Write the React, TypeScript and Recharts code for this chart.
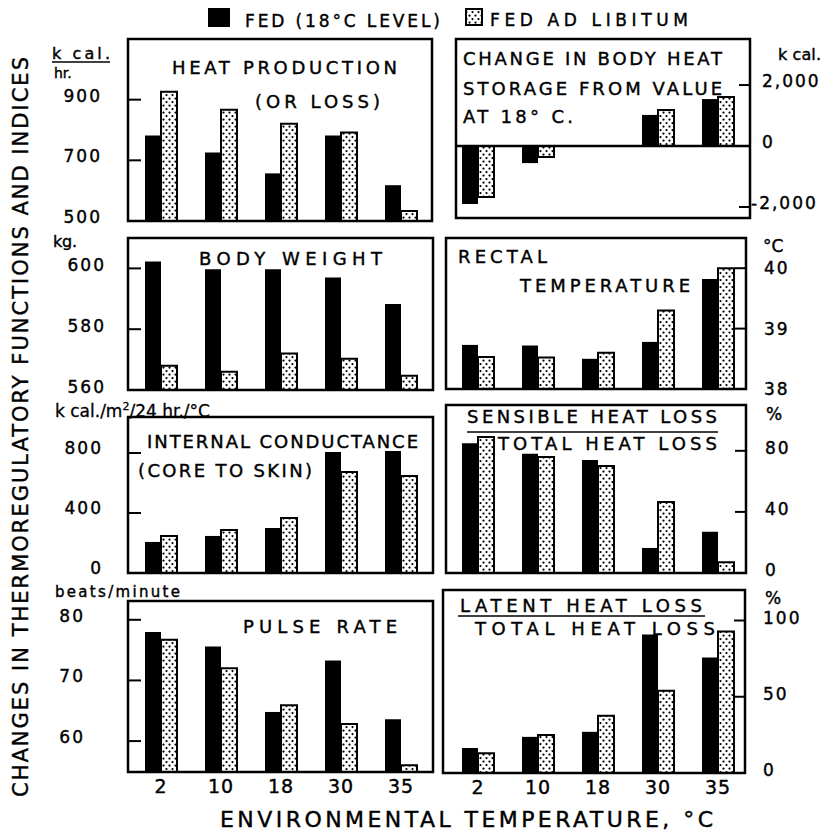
import React from 'react'
import { BarChart, Bar, XAxis, YAxis, ReferenceLine } from 'recharts'

// environmental temperature, °C
const categories = ['2', '10', '18', '30', '35']

// heat production (or loss), k cal./hr.
const heatProductionFed = [782, 726, 657, 782, 618]
const heatProductionAdLib = [926, 867, 821, 792, 533]
const heatProductionTicks = [500, 700, 900]

// change in body heat storage from value at 18 °C, k cal.
const heatStorageFed = [-1900, -560, 0, 1020, 1540]
const heatStorageAdLib = [-1670, -360, 0, 1180, 1610]
const heatStorageTicks = [-2000, 0, 2000]

// body weight, kg.
const bodyWeightFed = [602.3, 599.7, 599.7, 597, 588.3]
const bodyWeightAdLib = [568, 566, 572, 570.3, 564.7]
const bodyWeightTicks = [560, 580, 600]

// rectal temperature, °C
const rectalFed = [38.73, 38.72, 38.5, 38.78, 39.82]
const rectalAdLib = [38.53, 38.52, 38.6, 39.3, 40.0]
const rectalTicks = [38, 39, 40]

// internal conductance, k cal./m2/24 hr./°C
const conductanceFed = [207, 247, 300, 807, 813]
const conductanceAdLib = [247, 287, 367, 673, 647]
const conductanceTicks = [0, 400, 800]

// sensible / total heat loss, %
const sensibleFed = [85, 78, 74, 16.4, 27]
const sensibleAdLib = [89, 76, 70, 46.5, 7]
const sensibleTicks = [0, 40, 80]

// pulse rate, beats/minute
const pulseFed = [78, 75.6, 64.8, 73.3, 63.6]
const pulseAdLib = [76.7, 72, 65.9, 62.8, 56]
const pulseTicks = [60, 70, 80]

// latent / total heat loss, %
const latentFed = [16.4, 23.7, 27, 90.8, 75.7]
const latentAdLib = [13, 25, 37.5, 54, 92.8]
const latentTicks = [0, 50, 100]

const FONT = '"DejaVu Sans", Verdana, sans-serif'

interface PanelSpec {
  id: string
  side: 'left' | 'right'
  box: [number, number, number, number]
  domain: [number, number]
  ticks: number[]
  fed: number[]
  adLib: number[]
  labelX: number
  labelDy: number
  showX?: boolean
  zero?: boolean
  comma?: boolean
}

const panels: PanelSpec[] = [
  { id: 'hp', side: 'left', box: [128, 39, 432, 221], domain: [500, 1100], ticks: heatProductionTicks, fed: heatProductionFed, adLib: heatProductionAdLib, labelX: 102, labelDy: -4 },
  { id: 'hs', side: 'right', box: [456, 39, 750, 218], domain: [-2360, 3510], ticks: heatStorageTicks, fed: heatStorageFed, adLib: heatStorageAdLib, labelX: 762, labelDy: -4, zero: true, comma: true },
  { id: 'bw', side: 'left', box: [128, 238, 433, 390], domain: [560, 610], ticks: bodyWeightTicks, fed: bodyWeightFed, adLib: bodyWeightAdLib, labelX: 106, labelDy: -3 },
  { id: 'rt', side: 'right', box: [446, 238, 746, 389], domain: [38, 40.5], ticks: rectalTicks, fed: rectalFed, adLib: rectalAdLib, labelX: 764, labelDy: 0 },
  { id: 'ic', side: 'left', box: [128, 417, 433, 573], domain: [0, 1040], ticks: conductanceTicks, fed: conductanceFed, adLib: conductanceAdLib, labelX: 103, labelDy: -5 },
  { id: 'sh', side: 'right', box: [446, 405, 746, 573], domain: [0, 110], ticks: sensibleTicks, fed: sensibleFed, adLib: sensibleAdLib, labelX: 765, labelDy: -3 },
  { id: 'pr', side: 'left', box: [128, 601, 433, 772], domain: [54.9, 83.1], ticks: pulseTicks, fed: pulseFed, adLib: pulseAdLib, labelX: 85, labelDy: -4, showX: true },
  { id: 'lh', side: 'right', box: [443, 590, 745, 773], domain: [0, 120], ticks: latentTicks, fed: latentFed, adLib: latentAdLib, labelX: 763, labelDy: -3, showX: true },
]

function DotPattern({ id }: { id: string }) {
  return (
    <pattern id={id} width={6} height={7} patternUnits="userSpaceOnUse">
      <rect width={6} height={7} fill="#fff" />
      <circle cx={1.5} cy={1.6} r={1.15} fill="#000" />
      <circle cx={4.5} cy={5.1} r={1.1} fill="#000" />
    </pattern>
  )
}

function Panel({ spec }: { spec: PanelSpec }) {
  const [bx1, by1, bx2, by2] = spec.box
  const isLeft = spec.side === 'left'
  const svgLeft = isLeft ? 0 : 440
  const svgWidth = isLeft ? 440 : 400
  const plotX1 = isLeft ? 131 : 448
  const plotX2 = isLeft ? 431 : 748
  const axisW = 60
  const padTop = 12
  const padBottom = spec.showX ? 30 : 12
  const height = by2 - by1 + padTop + padBottom
  const data = categories.map((c, i) => ({ name: c, fed: spec.fed[i], adLib: spec.adLib[i] }))

  const margin = isLeft
    ? { top: padTop, bottom: spec.showX ? 0 : padBottom, left: plotX1 - svgLeft - axisW, right: svgLeft + svgWidth - plotX2 }
    : { top: padTop, bottom: spec.showX ? 0 : padBottom, left: plotX1 - svgLeft, right: svgLeft + svgWidth - plotX2 - axisW }

  const fmt = (v: number) => (spec.comma ? v.toLocaleString('en-US') : String(v))

  const yTick = (props: any) => {
    const { y, payload } = props
    const v = payload.value as number
    const edge = (isLeft ? bx1 : bx2) - svgLeft
    const inward = isLeft ? 13 : -11
    const lx = spec.labelX - svgLeft + (v < 0 ? -11 : 0)
    const atEdge = v === spec.domain[0] || v === spec.domain[1]
    return (
      <g>
        {!atEdge && <line x1={edge} x2={edge + inward} y1={y} y2={y} stroke="#000" strokeWidth={2} />}
        <text
          x={lx}
          y={y + spec.labelDy}
          textAnchor={isLeft ? 'end' : 'start'}
          dominantBaseline="central"
          fontFamily={FONT}
          fontSize={17}
          letterSpacing={2}
          fill="#000"
          stroke="#000"
          strokeWidth={0.4}
        >
          {fmt(v)}
        </text>
      </g>
    )
  }

  const xTick = (props: any) => {
    const { x, y, payload } = props
    return (
      <text x={x} y={y + 21} textAnchor="middle" fontFamily={FONT} fontSize={19} letterSpacing={1} fill="#000" stroke="#000" strokeWidth={0.4}>
        {payload.value}
      </text>
    )
  }

  return (
    <div style={{ position: 'absolute', left: svgLeft, top: by1 - padTop }}>
      <BarChart width={svgWidth} height={height} data={data} margin={margin} barGap={0} barSize={16}>
        <defs>
          <DotPattern id={`dots-${spec.id}`} />
        </defs>
        {spec.showX ? (
          <XAxis dataKey="name" height={30} axisLine={false} tickLine={false} tickSize={0} tickMargin={0} tick={xTick} interval={0} />
        ) : (
          <XAxis dataKey="name" hide />
        )}
        <YAxis
          orientation={isLeft ? 'left' : 'right'}
          width={axisW}
          type="number"
          domain={spec.domain}
          ticks={spec.ticks}
          interval={0}
          allowDataOverflow
          axisLine={false}
          tickLine={false}
          tickSize={0}
          tickMargin={0}
          tick={yTick}
        />
        {spec.zero && (
          <ReferenceLine
            y={0}
            stroke="#000"
            strokeWidth={2.5}
            shape={(p: any) => (
              <line x1={bx1 - svgLeft} x2={bx2 - svgLeft} y1={p.y1} y2={p.y2} stroke="#000" strokeWidth={2.5} />
            )}
          />
        )}
        <Bar dataKey="fed" fill="#000" barSize={16} isAnimationActive={false} />
        <Bar dataKey="adLib" fill={`url(#dots-${spec.id})`} stroke="#000" strokeWidth={2} barSize={16} isAnimationActive={false} />
      </BarChart>
    </div>
  )
}

function Txt({ x, y, w, size = 18, children }: { x: number; y: number; w?: number; size?: number; children: React.ReactNode }) {
  return (
    <text
      x={x}
      y={y}
      fontFamily={FONT}
      fontSize={size}
      fill="#000"
      stroke="#000"
      strokeWidth={0.4}
      textLength={w}
      lengthAdjust={w ? 'spacing' : undefined}
    >
      {children}
    </text>
  )
}

function Overlay() {
  return (
    <svg width={840} height={837} style={{ position: 'absolute', left: 0, top: 0, pointerEvents: 'none' }}>
      <defs>
        <DotPattern id="dots-legend" />
      </defs>
      {panels.map((p) => (
        <rect
          key={p.id}
          x={p.box[0]}
          y={p.box[1]}
          width={p.box[2] - p.box[0]}
          height={p.box[3] - p.box[1]}
          fill="none"
          stroke="#000"
          strokeWidth={2.5}
        />
      ))}

      {/* legend */}
      <rect x={208} y={8} width={22} height={19} fill="#000" />
      <Txt x={245} y={27} w={195} size={17}>FED (18°C LEVEL)</Txt>
      <rect x={466} y={9} width={16} height={16} fill="url(#dots-legend)" stroke="#000" strokeWidth={2} />
      <Txt x={490} y={26} w={198} size={17}>FED AD LIBITUM</Txt>

      {/* unit labels */}
      <Txt x={52} y={59} w={58} size={16}>k cal.</Txt>
      <line x1={52} x2={110} y1={62} y2={62} stroke="#000" strokeWidth={1.5} />
      <Txt x={54} y={78} size={14}>hr.</Txt>
      <Txt x={53} y={247} w={24} size={16}>kg.</Txt>
      <text x={55} y={417} fontFamily={FONT} fontSize={17} fill="#000" stroke="#000" strokeWidth={0.3}>
        k cal./m<tspan dy={-7} fontSize={11}>2</tspan>
        <tspan dy={7}>/24 hr./°C</tspan>
      </text>
      <Txt x={55} y={597} w={125} size={15}>beats/minute</Txt>
      <Txt x={778} y={60} w={43} size={16}>k cal.</Txt>
      <Txt x={763} y={252} size={17}>°C</Txt>
      <Txt x={766} y={420} size={17}>%</Txt>
      <Txt x={765} y={604} size={17}>%</Txt>

      {/* panel titles */}
      <Txt x={172} y={74} w={225}>HEAT PRODUCTION</Txt>
      <Txt x={255} y={108} w={125}>(OR LOSS)</Txt>
      <Txt x={463} y={65} w={259}>CHANGE IN BODY HEAT</Txt>
      <Txt x={463} y={95} w={259}>STORAGE FROM VALUE</Txt>
      <Txt x={463} y={123} w={110}>AT 18° C.</Txt>
      <Txt x={199} y={265} w={183}>BODY WEIGHT</Txt>
      <Txt x={458} y={263} w={89}>RECTAL</Txt>
      <Txt x={520} y={292} w={170}>TEMPERATURE</Txt>
      <Txt x={147} y={448} w={271}>INTERNAL CONDUCTANCE</Txt>
      <Txt x={138} y={477} w={174}>(CORE TO SKIN)</Txt>
      <Txt x={467} y={423} w={250}>SENSIBLE HEAT LOSS</Txt>
      <line x1={467} x2={718} y1={432} y2={432} stroke="#000" strokeWidth={1.5} />
      <Txt x={498} y={450} w={219}>TOTAL HEAT LOSS</Txt>
      <Txt x={243} y={633} w={154}>PULSE RATE</Txt>
      <Txt x={460} y={612} w={242}>LATENT HEAT LOSS</Txt>
      <line x1={458} x2={705} y1={616} y2={616} stroke="#000" strokeWidth={1.5} />
      <Txt x={475} y={635} w={240}>TOTAL HEAT LOSS</Txt>

      {/* axis titles */}
      <text
        x={28}
        y={797}
        transform="rotate(-90 28 797)"
        fontFamily={FONT}
        fontSize={21}
        fill="#000"
        stroke="#000"
        strokeWidth={0.4}
        textLength={740}
        lengthAdjust="spacing"
      >
        CHANGES IN THERMOREGULATORY FUNCTIONS AND INDICES
      </text>
      <Txt x={220} y={827} w={493} size={22}>ENVIRONMENTAL TEMPERATURE, °C</Txt>
    </svg>
  )
}

export default function App() {
  return (
    <div style={{ position: 'absolute', left: 0, top: 0, width: 840, height: 837, background: '#fff', overflow: 'hidden' }}>
      {panels.map((p) => (
        <Panel key={p.id} spec={p} />
      ))}
      <Overlay />
    </div>
  )
}
